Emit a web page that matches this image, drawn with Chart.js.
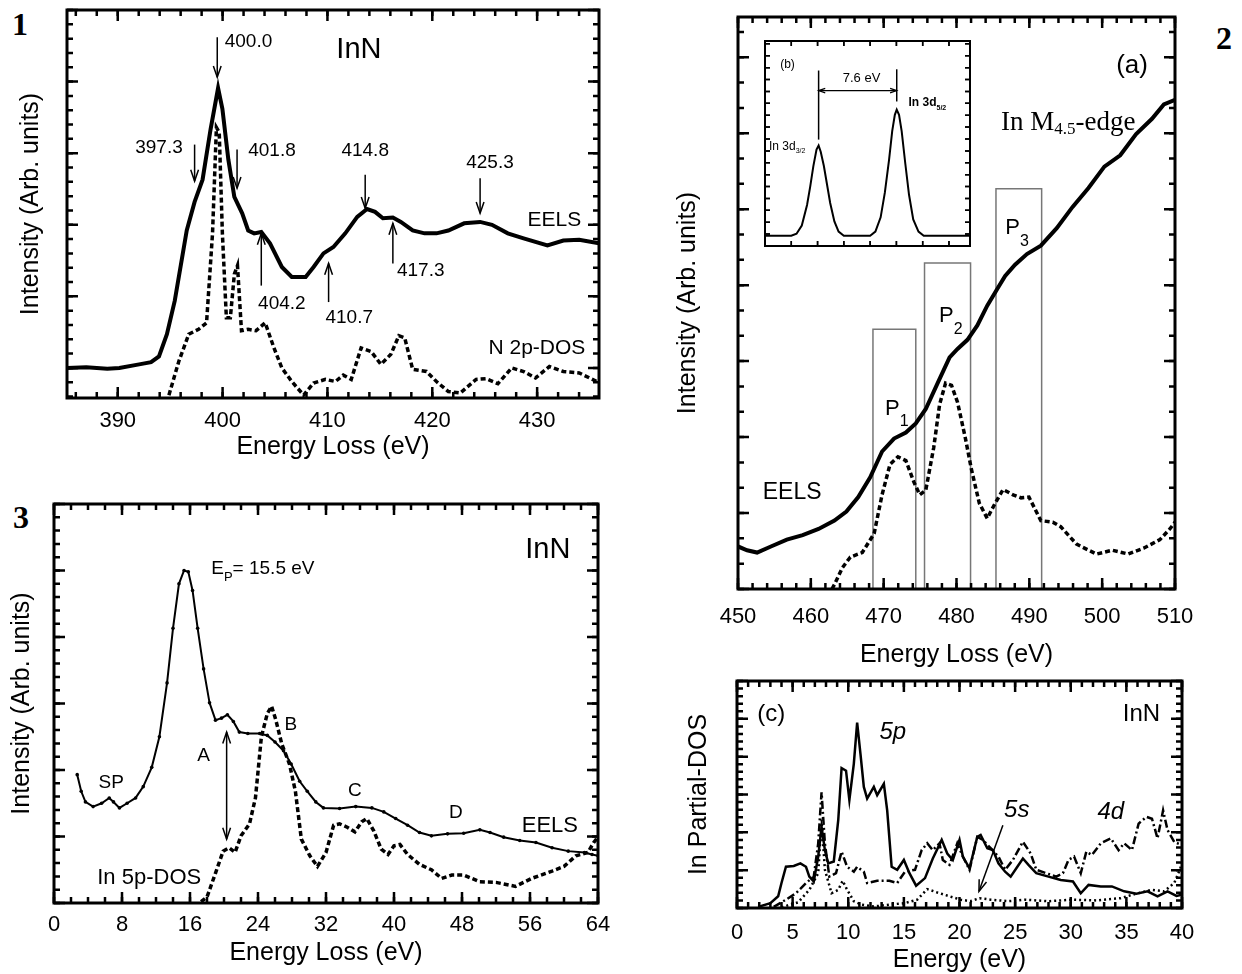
<!DOCTYPE html>
<html>
<head>
<meta charset="utf-8">
<script src="https://cdn.jsdelivr.net/npm/chart.js@4"></script>
<style>
  body { margin: 0; background: #fff; width: 1242px; height: 974px; overflow: hidden; position: relative; }
  canvas { position: absolute; }
  .num { position: absolute; font: bold 32px "Liberation Serif", "Times New Roman", serif; line-height: 32px; }
</style>
</head>
<body>
<div class="num" style="left:12px;top:8px">1</div>
<div class="num" style="left:1216px;top:22px">2</div>
<div class="num" style="left:13px;top:501px">3</div>

<canvas id="c1" width="620" height="466" style="left:0;top:0"></canvas>
<canvas id="c2" width="569" height="674" style="left:640px;top:0"></canvas>
<canvas id="c3" width="620" height="502" style="left:0;top:470px"></canvas>
<canvas id="c4" width="602" height="319" style="left:640px;top:660px"></canvas>
<canvas id="cb" width="215" height="215" style="left:760px;top:36px"></canvas>

<script>
// ---- Panel 1 : N K-edge ----
const eels1X = [385.2, 387, 389, 390.15, 392.04, 393.18, 393.93, 394.69, 395.44, 396.58, 397.33, 398.09, 398.85, 399.57, 399.98, 400.55, 401.12, 401.87, 402.44, 403.01, 403.69, 404.52, 405.65, 406.6, 407.92, 408.68, 409.62, 410.57, 411.7, 412.84, 413.78, 414.54, 415.29, 416.24, 417.0, 418.13, 419.26, 420.4, 421.53, 423.04, 424.56, 425.69, 427.2, 428.71, 430.98, 432.5, 434.01, 435.9];
const eels1Y = [0.0, 0.01, -0.01, 0.0, 0.05, 0.08, 0.16, 0.47, 0.94, 1.92, 2.32, 2.63, 3.33, 3.91, 3.62, 2.91, 2.39, 2.16, 1.92, 1.88, 1.9, 1.74, 1.41, 1.27, 1.27, 1.41, 1.6, 1.69, 1.88, 2.11, 2.22, 2.18, 2.09, 2.1, 2.04, 1.92, 1.88, 1.88, 1.92, 2.02, 2.04, 2.0, 1.88, 1.81, 1.71, 1.78, 1.79, 1.74];
const dos1X = [394.88, 395.82, 396.77, 397.71, 398.47, 399.04, 399.41, 399.68, 399.98, 400.36, 400.74, 401.12, 401.42, 401.8, 402.44, 403.19, 404.06, 404.9, 405.65, 406.6, 407.73, 408.68, 409.81, 410.76, 411.51, 412.27, 413.21, 414.16, 415.1, 416.05, 416.81, 417.37, 418.13, 419.45, 420.4, 421.53, 422.67, 424.18, 425.12, 426.26, 427.58, 428.71, 429.85, 431.17, 432.5, 434.01, 435.71];
const dos1Y = [-0.38, 0.09, 0.47, 0.54, 0.63, 1.88, 3.36, 3.29, 1.88, 0.7, 0.7, 1.31, 1.43, 0.52, 0.54, 0.52, 0.63, 0.28, 0.0, -0.19, -0.38, -0.21, -0.16, -0.19, -0.1, -0.16, 0.28, 0.23, 0.05, 0.19, 0.45, 0.42, -0.02, -0.05, -0.19, -0.33, -0.35, -0.16, -0.15, -0.22, 0.0, -0.05, -0.14, 0.02, -0.05, -0.07, -0.19];

// ---- Panel 2 : In M4,5-edge ----
const eels2X = [450, 451.25, 452.62, 454.52, 456.7, 458.88, 461.06, 463.24, 464.88, 466.51, 468.15, 469.78, 471.42, 473.05, 474.41, 475.78, 477.41, 479.05, 480.14, 481.5, 482.86, 484.22, 485.59, 486.68, 488.04, 489.67, 491.58, 493.76, 495.94, 498.12, 500.3, 502.48, 504.66, 506.84, 508.47, 510];
const eels2Y = [0.56, 0.51, 0.48, 0.56, 0.65, 0.71, 0.79, 0.9, 1.02, 1.21, 1.47, 1.81, 1.98, 2.06, 2.18, 2.37, 2.71, 3.05, 3.16, 3.28, 3.47, 3.73, 3.95, 4.12, 4.27, 4.41, 4.52, 4.75, 5.03, 5.28, 5.56, 5.71, 5.99, 6.19, 6.38, 6.44];
const dos2X = [462.9, 463.24, 464.33, 465.42, 467.06, 468.69, 469.78, 470.87, 471.96, 473.05, 474.14, 474.96, 475.78, 476.87, 477.68, 478.5, 479.32, 480.14, 481.23, 482.04, 483.13, 484.22, 485.31, 486.4, 487.77, 488.86, 489.95, 491.58, 493.22, 494.31, 496.49, 499.21, 501.39, 503.57, 505.75, 507.93, 509.29, 510];
const dos2Y = [0.0, 0.06, 0.28, 0.42, 0.48, 0.73, 1.24, 1.64, 1.74, 1.69, 1.41, 1.24, 1.3, 1.86, 2.43, 2.71, 2.68, 2.46, 1.98, 1.58, 1.13, 0.93, 1.13, 1.31, 1.24, 1.2, 1.21, 0.9, 0.88, 0.82, 0.59, 0.46, 0.51, 0.46, 0.54, 0.65, 0.79, 0.88];
const boxNames = ['P1', 'P2', 'P3'];
const boxStart = [468.53, 475.61, 485.42];
const boxEnd = [474.41, 481.93, 491.69];
const boxTop = [3.42, 4.29, 5.27];

// ---- Inset (b) : In 3d ----
const xpsX = [0, 2.5, 3.0, 3.5, 4.0, 4.3, 4.6, 4.9, 5.1, 5.3, 5.6, 5.9, 6.2, 6.6, 7.0, 7.5, 10.0, 10.5, 11.0, 11.4, 11.8, 12.1, 12.35, 12.53, 12.75, 13.0, 13.35, 13.7, 14.1, 14.6, 15.1, 19.5];
const xpsY = [0.05, 0.05, 0.06, 0.1, 0.2, 0.29, 0.39, 0.47, 0.49, 0.46, 0.39, 0.3, 0.21, 0.12, 0.07, 0.05, 0.05, 0.07, 0.14, 0.26, 0.42, 0.56, 0.64, 0.665, 0.64, 0.56, 0.4, 0.25, 0.13, 0.07, 0.05, 0.05];

// ---- Panel 3 : low loss ----
const eels3X = [2.73, 3.2, 3.7, 4.6, 5.6, 6.5, 7.0, 7.7, 8.6, 9.6, 10.5, 11.5, 12.4, 13.3, 14.0, 14.7, 15.3, 15.8, 16.3, 16.9, 17.6, 18.3, 19.0, 19.7, 20.4, 21.1, 21.8, 22.8, 24.2, 25.1, 26.0, 27.0, 27.9, 28.9, 29.8, 30.8, 31.7, 33.6, 35.5, 37.4, 38.8, 40.2, 41.6, 43.0, 44.4, 46.3, 48.2, 50.1, 51.3, 52.9, 54.8, 56.7, 58.6, 60.5, 62.4, 63.3, 64];
const eels3Y = [1.93, 1.68, 1.52, 1.45, 1.5, 1.58, 1.52, 1.43, 1.5, 1.58, 1.75, 2.04, 2.5, 3.31, 4.13, 4.8, 5.0, 4.98, 4.7, 4.13, 3.52, 3.01, 2.75, 2.78, 2.83, 2.73, 2.57, 2.55, 2.55, 2.52, 2.42, 2.29, 2.09, 1.83, 1.68, 1.52, 1.43, 1.42, 1.45, 1.43, 1.37, 1.27, 1.17, 1.06, 1.01, 1.04, 1.05, 1.1, 1.06, 0.99, 0.94, 0.91, 0.83, 0.78, 0.76, 0.73, 0.71];
const dos3X = [17.3, 18.0, 19.0, 19.9, 20.6, 21.3, 22.0, 23.0, 23.7, 24.4, 25.1, 25.6, 26.1, 26.8, 27.7, 28.4, 29.1, 30.1, 31.0, 32.0, 32.9, 33.6, 34.5, 35.4, 36.2, 36.8, 37.6, 38.5, 39.3, 40.0, 40.7, 41.6, 43.0, 44.4, 45.6, 46.8, 48.2, 50.1, 52.0, 54.3, 56.2, 58.6, 60.0, 61.4, 62.8, 63.5, 64];
const dos3Y = [0.02, 0.09, 0.45, 0.78, 0.83, 0.76, 1.01, 1.19, 1.58, 2.5, 2.85, 2.96, 2.75, 2.39, 2.09, 1.68, 0.96, 0.71, 0.55, 0.76, 1.17, 1.19, 1.14, 1.07, 1.22, 1.27, 1.09, 0.81, 0.73, 0.86, 0.88, 0.73, 0.58, 0.5, 0.37, 0.42, 0.42, 0.32, 0.31, 0.25, 0.37, 0.48, 0.55, 0.71, 0.76, 0.91, 0.99];

// ---- Panel c : In partial DOS ----
const p5X = [1.9, 3.0, 3.7, 4.0, 4.4, 5.1, 5.7, 6.2, 6.5, 6.9, 7.3, 7.6, 7.9, 8.2, 8.7, 9.1, 9.4, 9.8, 10.1, 10.5, 10.8, 11.1, 11.4, 11.7, 12.3, 12.6, 13.2, 13.5, 13.9, 14.4, 15.0, 15.5, 16.1, 16.9, 17.6, 18.4, 18.9, 19.4, 20.0, 20.3, 20.9, 21.6, 21.9, 22.5, 23.0, 23.5, 24.1, 24.6, 25.2, 25.7, 26.2, 26.9, 28.0, 29.1, 30.2, 30.9, 31.6, 32.7, 33.7, 34.8, 35.9, 36.9, 37.8, 38.7, 39.5, 40.0];
const p5Y = [0.03, 0.13, 0.31, 0.66, 1.09, 1.11, 1.18, 1.09, 0.83, 0.7, 1.36, 2.15, 1.53, 1.18, 1.23, 2.32, 3.7, 3.63, 2.85, 3.81, 4.9, 4.07, 3.2, 2.89, 3.2, 2.98, 3.28, 2.58, 1.09, 1.01, 1.27, 0.92, 0.59, 0.79, 1.31, 1.8, 1.44, 1.27, 1.8, 1.36, 1.05, 1.88, 1.93, 1.58, 1.53, 1.18, 0.96, 0.83, 1.09, 1.31, 1.14, 0.92, 0.83, 0.74, 0.7, 0.39, 0.61, 0.57, 0.57, 0.44, 0.38, 0.44, 0.31, 0.44, 0.32, 0.35];
const d4X = [3.3, 4.4, 5.3, 6.2, 6.9, 7.3, 7.6, 7.9, 8.3, 8.9, 9.4, 9.9, 10.5, 10.8, 11.4, 11.7, 12.6, 13.7, 14.4, 15.1, 16.0, 16.6, 17.1, 17.6, 18.2, 18.5, 19.1, 19.8, 20.3, 20.9, 21.6, 22.1, 22.8, 23.5, 24.1, 24.8, 25.7, 26.4, 26.9, 28.0, 28.7, 29.3, 29.8, 30.3, 30.9, 31.4, 31.9, 32.7, 33.6, 34.3, 34.8, 35.5, 36.1, 36.8, 37.3, 37.8, 38.3, 38.7, 39.3, 40.0];
const d4Y = [0.03, 0.22, 0.39, 0.66, 0.83, 1.71, 3.06, 1.71, 0.83, 0.92, 1.49, 1.09, 0.96, 1.09, 0.96, 0.66, 0.72, 0.72, 0.66, 0.96, 1.01, 1.53, 1.71, 1.53, 1.71, 1.27, 1.14, 1.71, 1.36, 1.01, 1.88, 1.8, 1.58, 1.36, 1.01, 1.27, 1.75, 1.44, 1.01, 0.9, 0.83, 0.92, 1.27, 1.36, 0.92, 1.49, 1.4, 1.71, 1.84, 1.53, 1.71, 1.53, 2.23, 2.41, 2.36, 1.84, 2.58, 2.06, 1.75, 1.66];
const s5X = [4.0, 5.5, 6.5, 7.3, 7.6, 7.9, 8.5, 9.1, 9.5, 9.9, 10.5, 11.2, 12.3, 13.7, 15.1, 16.2, 17.1, 18.0, 19.1, 20.1, 21.0, 21.8, 22.8, 24.4, 25.9, 28.0, 30.2, 32.3, 34.5, 35.9, 37.3, 38.4, 39.3, 39.8, 40.0];
const s5Y = [0.02, 0.15, 0.48, 0.92, 2.32, 1.01, 0.39, 0.48, 0.72, 0.48, 0.18, 0.09, 0.04, 0.09, 0.13, 0.22, 0.5, 0.41, 0.31, 0.22, 0.18, 0.26, 0.22, 0.18, 0.22, 0.18, 0.22, 0.2, 0.26, 0.38, 0.48, 0.44, 0.66, 1.01, 1.18];

const xy = (xs, ys) => xs.map((v, i) => ({x: v, y: ys[i]}));

Chart.defaults.font.family = 'Arial, "Liberation Sans", Helvetica, sans-serif';
Chart.defaults.color = '#000';

// frame + inward ticks on the four sides
const frameTicks = {
  id: 'frameTicks',
  afterDatasetsDraw(chart, args, o) {
    const {ctx, chartArea: a, scales: {x, y}} = chart;
    ctx.save();
    ctx.strokeStyle = '#000';
    ctx.lineWidth = o.tickWidth;
    const mark = (sc, horiz, step, len) => {
      const i0 = Math.ceil(sc.min / step - 1e-6), i1 = Math.floor(sc.max / step + 1e-6);
      for (let i = i0; i <= i1; i++) {
        const p = sc.getPixelForValue(i * step);
        ctx.beginPath();
        if (horiz) {
          ctx.moveTo(p, a.bottom); ctx.lineTo(p, a.bottom - len);
          ctx.moveTo(p, a.top); ctx.lineTo(p, a.top + len);
        } else {
          ctx.moveTo(a.left, p); ctx.lineTo(a.left + len, p);
          ctx.moveTo(a.right, p); ctx.lineTo(a.right - len, p);
        }
        ctx.stroke();
      }
    };
    mark(x, true, o.xMinor, o.minorLen);
    mark(x, true, o.xMajor, o.majorLen);
    mark(y, false, o.yMinor, o.minorLen);
    mark(y, false, o.yMajor, o.majorLen);
    ctx.lineWidth = o.frameWidth;
    ctx.strokeRect(a.left, a.top, a.right - a.left, a.bottom - a.top);
    ctx.restore();
  }
};

// texts and arrows placed in data units
const notes = {
  id: 'notes',
  afterDatasetsDraw(chart, args, opts) {
    const {ctx, scales: {x, y}} = chart;
    const px = v => x.getPixelForValue(v), py = v => y.getPixelForValue(v);
    ctx.save();
    ctx.fillStyle = '#000';
    ctx.strokeStyle = '#000';
    (opts.items || []).forEach(it => {
      if (it.t === 'text') {
        const parts = [[it.text, it.font, 0]];
        if (it.sub) parts.push([it.sub, it.subFont, it.subDy]);
        if (it.after) parts.push([it.after, it.font, 0]);
        let w = 0;
        parts.forEach(p => { ctx.font = p[1]; w += ctx.measureText(p[0]).width; });
        let X = px(it.x);
        const Y = py(it.y);
        if (it.align === 'center') X -= w / 2;
        else if (it.align === 'right') X -= w;
        ctx.textAlign = 'left';
        ctx.textBaseline = 'middle';
        parts.forEach(p => { ctx.font = p[1]; ctx.fillText(p[0], X, Y + p[2]); X += ctx.measureText(p[0]).width; });
      } else {
        const x1 = px(it.x1), y1 = py(it.y1);
        const x2 = px(it.x2 !== undefined ? it.x2 : it.x1), y2 = py(it.y2 !== undefined ? it.y2 : it.y1);
        ctx.lineWidth = it.lw || 1.5;
        ctx.beginPath(); ctx.moveTo(x1, y1); ctx.lineTo(x2, y2); ctx.stroke();
        const head = (ax, ay, bx, by) => {
          const ang = Math.atan2(by - ay, bx - ax), L = it.hl || 12, W = 0.33;
          ctx.beginPath();
          ctx.moveTo(bx - L * Math.cos(ang - W), by - L * Math.sin(ang - W));
          ctx.lineTo(bx, by);
          ctx.lineTo(bx - L * Math.cos(ang + W), by - L * Math.sin(ang + W));
          ctx.stroke();
        };
        if (it.head !== 'none') head(x1, y1, x2, y2);
        if (it.head === 'both') head(x2, y2, x1, y1);
      }
    });
    ctx.restore();
  }
};

const txt = (x, y, text, size, align, extra) => Object.assign({t: 'text', x, y, text, font: size + 'px Arial, "Liberation Sans", sans-serif', align: align || 'center'}, extra || {});
const arrow = (x1, y1, x2, y2, head) => ({t: 'arrow', x1, y1, x2, y2, head: head || 'end'});

function axes(o) {
  return {
    x: {
      type: 'linear', min: o.xmin, max: o.xmax,
      grid: {display: false, drawTicks: false}, border: {display: false},
      ticks: {display: o.xlabels !== false, stepSize: o.xstep, includeBounds: false, autoSkip: false, maxRotation: 0,
              padding: o.tickPad, font: {size: 22}, color: '#000'},
      title: {display: !!o.xtitle, text: o.xtitle, font: {size: 25}, color: '#000', padding: {top: 0, bottom: 4}},
      afterFit: s => { if (o.xh !== undefined) s.height = o.xh; }
    },
    y: {
      type: 'linear', min: o.ymin, max: o.ymax,
      grid: {display: false, drawTicks: false}, border: {display: false},
      ticks: {display: false},
      title: {display: !!o.ytitle, text: o.ytitle, font: {size: 25}, color: '#000', padding: {top: 4, bottom: 0}},
      afterFit: s => { if (o.yw !== undefined) s.width = o.yw; }
    }
  };
}

const lineSet = (data, width, dash, extra) => Object.assign({
  data, borderColor: '#000', borderWidth: width, borderDash: dash || [], pointRadius: 0, tension: 0, fill: false
}, extra || {});

function make(id, padding, scaleOpts, datasets, ticks, items) {
  return new Chart(document.getElementById(id), {
    type: 'line',
    data: {datasets},
    options: {
      responsive: false, animation: false, devicePixelRatio: 1,
      layout: {padding},
      scales: axes(scaleOpts),
      plugins: {legend: {display: false}, tooltip: {enabled: false}, frameTicks: ticks, notes: {items}}
    },
    plugins: [frameTicks, notes]
  });
}

const mainTicks = (xMajor, xMinor, yMajor, yMinor) => ({xMajor, xMinor, yMajor, yMinor, majorLen: 11, minorLen: 6, tickWidth: 2.5, frameWidth: 3});

// Panel 1
make('c1', {left: 12, top: 10, right: 21, bottom: 0},
  {xmin: 385.16, xmax: 435.9, ymin: -0.42, ymax: 5.0, xstep: 10, tickPad: 10, xh: 68, yw: 55,
   xtitle: 'Energy Loss (eV)', ytitle: 'Intensity (Arb. units)'},
  [lineSet(xy(eels1X, eels1Y), 4), lineSet(xy(dos1X, dos1Y), 3.5, [5, 3])],
  mainTicks(10, 2, 1, 0.2),
  [txt(413.0, 4.44, 'InN', 29),
   arrow(399.49, 4.62, 399.49, 4.06), txt(400.2, 4.55, '400.0', 19, 'left'),
   arrow(397.33, 3.12, 397.33, 2.61), txt(396.2, 3.08, '397.3', 19, 'right'),
   arrow(401.38, 3.05, 401.38, 2.51), txt(402.44, 3.04, '401.8', 19, 'left'),
   arrow(413.6, 2.70, 413.6, 2.23), txt(413.6, 3.03, '414.8', 19),
   arrow(424.56, 2.65, 424.56, 2.16), txt(425.5, 2.86, '425.3', 19),
   arrow(403.69, 1.15, 403.69, 1.88), txt(405.65, 0.89, '404.2', 19),
   arrow(410.11, 0.92, 410.11, 1.46), txt(412.08, 0.70, '410.7', 19),
   arrow(416.24, 1.46, 416.24, 2.02), txt(418.9, 1.36, '417.3', 19),
   txt(434.2, 2.07, 'EELS', 21, 'right'),
   txt(434.6, 0.28, 'N 2p-DOS', 21, 'right')]);

// Panel 2
const boxSets = boxNames.map((n, i) => lineSet(
  [{x: boxStart[i], y: 0}, {x: boxStart[i], y: boxTop[i]}, {x: boxEnd[i], y: boxTop[i]}, {x: boxEnd[i], y: 0}],
  1.5, [], {borderColor: '#777', order: 5}));
const serif = '"Liberation Serif", "Times New Roman", serif';
make('c2', {left: 29, top: 17, right: 34, bottom: 0},
  {xmin: 450, xmax: 510, ymin: 0, ymax: 7.53, xstep: 10, tickPad: 15, xh: 85, yw: 69,
   xtitle: 'Energy Loss (eV)', ytitle: 'Intensity (Arb. units)'},
  [lineSet(xy(eels2X, eels2Y), 4), lineSet(xy(dos2X, dos2Y), 3.5, [5, 3])].concat(boxSets),
  mainTicks(10, 2, 1, 1 / 3),
  [txt(504.1, 6.89, '(a)', 26),
   txt(486.1, 6.13, 'In M', 0, 'left', {font: '27px ' + serif, sub: '4.5', subFont: '17px ' + serif, subDy: 6, after: '-edge'}),
   txt(453.4, 1.27, 'EELS', 23, 'left'),
   txt(470.2, 2.37, 'P', 22, 'left', {sub: '1', subFont: '16px Arial', subDy: 13}),
   txt(477.6, 3.59, 'P', 22, 'left', {sub: '2', subFont: '16px Arial', subDy: 13}),
   txt(486.7, 4.75, 'P', 22, 'left', {sub: '3', subFont: '16px Arial', subDy: 13})]);

// Inset (b)
new Chart(document.getElementById('cb'), {
  type: 'line',
  data: {datasets: [lineSet(xy(xpsX, xpsY), 2)]},
  options: {
    responsive: false, animation: false, devicePixelRatio: 1,
    layout: {padding: 5},
    scales: {
      x: {type: 'linear', min: 0, max: 19.5, display: false},
      y: {type: 'linear', min: 0, max: 1, display: false}
    },
    plugins: {
      legend: {display: false}, tooltip: {enabled: false},
      frameTicks: {xMajor: 2.5, xMinor: 2.5, yMajor: 0.058, yMinor: 0.058, majorLen: 5, minorLen: 5, tickWidth: 1.5, frameWidth: 2},
      notes: {items: [
        txt(2.14, 0.883, '(b)', 12),
        arrow(5.1, 0.519, 5.1, 0.856, 'none'),
        arrow(12.53, 0.705, 12.53, 0.862, 'none'),
        Object.assign(arrow(5.1, 0.758, 12.53, 0.758, 'both'), {lw: 1.2, hl: 7}),
        txt(9.18, 0.818, '7.6 eV', 13),
        txt(13.65, 0.697, 'In 3d', 0, 'left', {font: 'bold 12px Arial', sub: '5/2', subFont: 'bold 7px Arial', subDy: 5}),
        txt(0.38, 0.486, 'In 3d', 0, 'left', {font: '12px Arial', sub: '3/2', subFont: '7px Arial', subDy: 5})
      ]}
    }
  },
  plugins: [{id: 'white', beforeDraw(c) { const a = c.chartArea; c.ctx.fillStyle = '#fff'; c.ctx.fillRect(a.left, a.top, a.right - a.left, a.bottom - a.top); }}, frameTicks, notes]
});

// Panel 3
make('c3', {left: 3, top: 34, right: 22, bottom: 0},
  {xmin: 0, xmax: 64, ymin: 0, ymax: 6, xstep: 8, tickPad: 9, xh: 69, yw: 51,
   xtitle: 'Energy Loss (eV)', ytitle: 'Intensity (Arb. units)'},
  [lineSet(xy(eels3X, eels3Y), 2, [], {pointRadius: 1.8, pointBackgroundColor: '#000', pointBorderWidth: 0}),
   lineSet(xy(dos3X, dos3Y), 3.5, [5, 3])],
  mainTicks(8, 2, 1, 0.2),
  [txt(58.1, 5.31, 'InN', 29),
   txt(18.5, 5.03, 'E', 19, 'left', {sub: 'P', subFont: '13px Arial', subDy: 9, after: '= 15.5 eV'}),
   txt(6.74, 1.81, 'SP', 19),
   txt(17.6, 2.21, 'A', 19),
   arrow(20.31, 2.57, 20.31, 0.96, 'both'),
   txt(27.85, 2.68, 'B', 19),
   txt(35.4, 1.69, 'C', 19),
   txt(47.27, 1.35, 'D', 19),
   txt(58.34, 1.16, 'EELS', 22),
   txt(11.2, 0.37, 'In 5p-DOS', 22)]);

// Panel c
make('c4', {left: 40, top: 21, right: 60, bottom: 0},
  {xmin: 0, xmax: 40, ymin: 0, ymax: 6, xstep: 5, tickPad: 12, xh: 71, yw: 57,
   xtitle: 'Energy (eV)', ytitle: 'In Partial-DOS'},
  [lineSet(xy(p5X, p5Y), 2.5), lineSet(xy(d4X, d4Y), 2.5, [8, 3, 2, 3]), lineSet(xy(s5X, s5Y), 2.5, [2, 3])],
  mainTicks(5, 1, 1, 0.2),
  [txt(3.08, 5.12, '(c)', 24),
   txt(36.35, 5.12, 'InN', 24),
   txt(14.0, 4.64, '5p', 0, 'center', {font: 'italic 24px Arial'}),
   txt(25.15, 2.58, '5s', 0, 'center', {font: 'italic 24px Arial'}),
   txt(33.6, 2.54, '4d', 0, 'center', {font: 'italic 24px Arial'}),
   arrow(23.9, 2.19, 21.75, 0.44)]);
</script>
</body>
</html>
